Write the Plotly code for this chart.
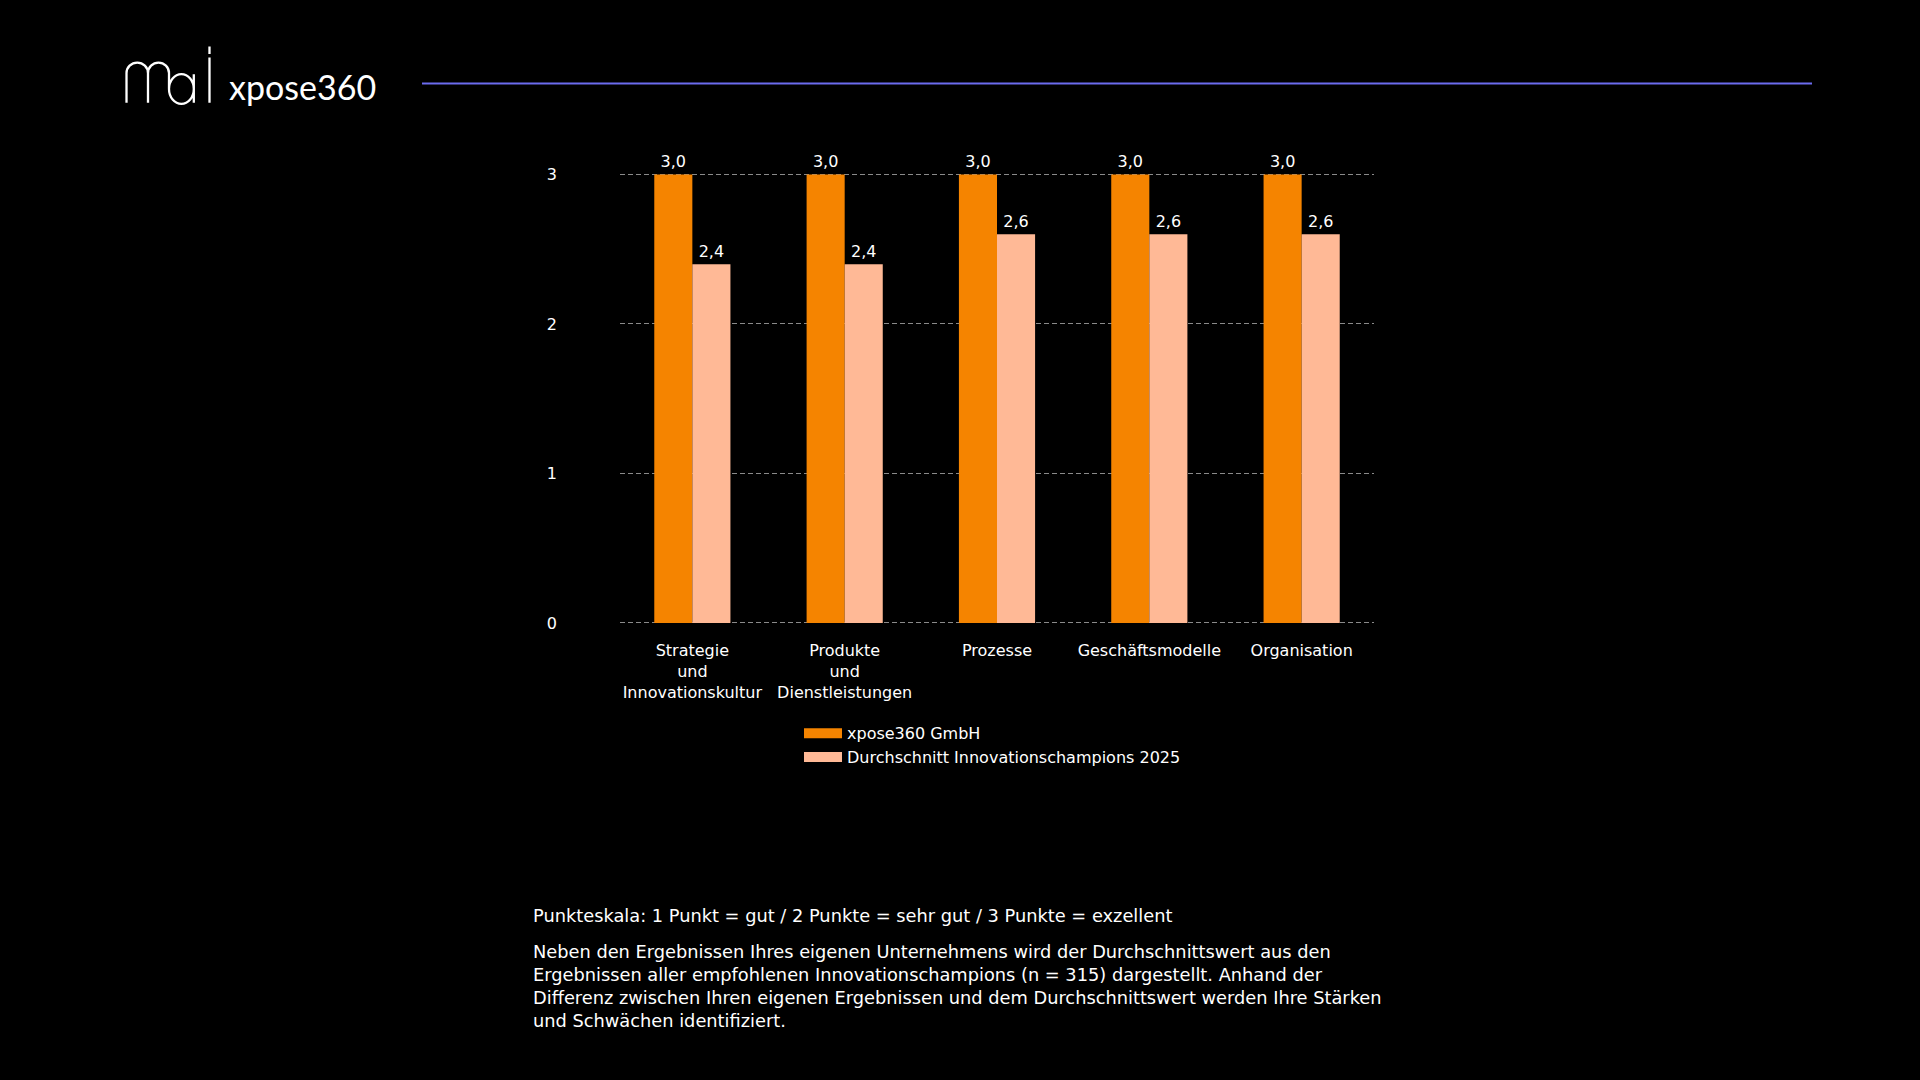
import plotly.graph_objects as go

# Data
categories = [
    "Strategie<br>und<br>Innovationskultur",
    "Produkte<br>und<br>Dienstleistungen",
    "Prozesse",
    "Geschäftsmodelle",
    "Organisation",
]
company_name = "xpose360 GmbH"
company_scores = [3.0, 3.0, 3.0, 3.0, 3.0]
avg_name = "Durchschnitt Innovationschampions 2025"
avg_scores = [2.4, 2.4, 2.6, 2.6, 2.6]
y_ticks = [0, 1, 2, 3]

ORANGE = "#F58400"
PEACH = "#FFB996"
FONT = "DejaVu Sans, sans-serif"
W, H = 1920, 1080

scale_note = "Punkteskala: 1 Punkt = gut / 2 Punkte = sehr gut / 3 Punkte = exzellent"
body_note = (
    "Neben den Ergebnissen Ihres eigenen Unternehmens wird der Durchschnittswert aus den<br>"
    "Ergebnissen aller empfohlenen Innovationschampions (n = 315) dargestellt. Anhand der<br>"
    "Differenz zwischen Ihren eigenen Ergebnissen und dem Durchschnittswert werden Ihre Stärken<br>"
    "und Schwächen identifiziert."
)

LOGO_DY = -4  # nudge for the header block


def px(x, y):
    # pixel position -> paper coords
    return f"{x / W:.5f},{1 - (y + LOGO_DY) / H:.5f}"


def arch(x0, x1, ytop):
    # upper half circle from (x0, ytop+r) over to (x1, ytop+r), no moveto
    r = (x1 - x0) / 2
    k = 0.5523 * r
    cx, cy = x0 + r, ytop + r
    return (f"C{px(x0, cy - k)} {px(cx - k, ytop)} {px(cx, ytop)} "
            f"C{px(cx + k, ytop)} {px(x1, cy - k)} {px(x1, cy)} ")


def ellipse(cx, cy, rx, ry):
    kx, ky = 0.5523 * rx, 0.5523 * ry
    return (f"M{px(cx - rx, cy)} C{px(cx - rx, cy - ky)} {px(cx - kx, cy - ry)} {px(cx, cy - ry)} "
            f"C{px(cx + kx, cy - ry)} {px(cx + rx, cy - ky)} {px(cx + rx, cy)} "
            f"C{px(cx + rx, cy + ky)} {px(cx + kx, cy + ry)} {px(cx, cy + ry)} "
            f"C{px(cx - kx, cy + ry)} {px(cx - rx, cy + ky)} {px(cx - rx, cy)} ")


fig = go.Figure()
for name, vals, color in [(company_name, company_scores, ORANGE), (avg_name, avg_scores, PEACH)]:
    fig.add_trace(go.Bar(
        x=categories, y=vals, name=name, marker=dict(color=color, line=dict(width=0)),
        texttemplate="%{y:.1f}", textposition="outside", cliponaxis=False,
        textfont=dict(color="white", size=16, family=FONT), showlegend=False,
    ))
# legend swatches (wide rectangles like the original)
for name, color in [(company_name, ORANGE), (avg_name, PEACH)]:
    fig.add_trace(go.Scatter(x=[None], y=[None], mode="lines", name=name,
                             line=dict(color=color, width=12)))

fig.update_layout(
    width=W, height=H, autosize=False,
    paper_bgcolor="black", plot_bgcolor="black",
    font=dict(family=FONT, size=16, color="white"),
    separators=",.",
    barmode="group", bargap=0.5, bargroupgap=0,
    margin=dict(l=0, r=0, t=0, b=0),
    xaxis=dict(domain=[620 / W, 1374 / W], range=[-0.475, 4.475], showgrid=False,
               zeroline=False, showline=False, ticks="", ticklabelstandoff=13,
               tickfont=dict(size=16, color="white")),
    yaxis=dict(domain=[1 - 627.5 / H, 1 - 167.5 / H], range=[-0.02, 3.02], tickvals=y_ticks,
               showgrid=True, gridcolor="#8a8a8a", griddash="5px,3px", gridwidth=1,
               zeroline=False, showline=False, ticklabelstandoff=62,
               tickfont=dict(size=16, color="white")),
    legend=dict(x=799 / W, y=1 - 719 / H, xanchor="left", yanchor="top", itemwidth=38,
                bgcolor="rgba(0,0,0,0)", font=dict(size=16, color="white")),
    showlegend=True,
)

# header: logo drawn as outline paths, brand name and rule
logo = (
    f"M{px(126.5, 102)} L{px(126.5, 72)} " + arch(126.5, 148, 61.25)
    + f"L{px(148, 102)} M{px(148, 72)} "
    + arch(148, 169, 61.25) + f"L{px(169, 88)} "
    + ellipse(181.4, 88, 12.4, 15)
    + f"M{px(193.8, 73)} L{px(193.8, 102)} "
    + f"M{px(209.5, 56)} L{px(209.5, 102)} M{px(209.5, 45)} L{px(209.5, 52.5)}"
)
fig.add_shape(type="path", xref="paper", yref="paper", path=logo,
              line=dict(color="white", width=2.3))
fig.add_annotation(x=227 / W, y=1 - 104 / H, xref="paper", yref="paper",
                   text="xpose360", showarrow=False, xanchor="left", yanchor="bottom",
                   font=dict(family="Lato, sans-serif", size=34, color="white"))
fig.add_shape(type="line", xref="paper", yref="paper",
              x0=422 / W, x1=1812 / W, y0=1 - 78.5 / H, y1=1 - 78.5 / H,
              line=dict(color="#6B6BEE", width=2))

# footer notes
fig.add_annotation(x=531 / W, y=1 - 908 / H, xref="paper", yref="paper",
                   text=scale_note, showarrow=False, xanchor="left", yanchor="top",
                   align="left", font=dict(size=17.8, color="white"))
fig.add_annotation(x=531 / W, y=1 - 944 / H, xref="paper", yref="paper",
                   text=body_note, showarrow=False, xanchor="left", yanchor="top",
                   align="left", font=dict(size=17.8, color="white"))

fig.write_html(
    "out.html",
    config={"displayModeBar": False},
    post_script=(
        "document.documentElement.style.overflow='hidden';"
        "document.body.style.margin='0';document.body.style.background='black';"
        "document.body.style.overflow='hidden';document.body.style.height='1080px';"
        "var d=document.getElementById('{plot_id}');"
        "d.style.position='fixed';d.style.left='0';d.style.top='0';"
    ),
)
